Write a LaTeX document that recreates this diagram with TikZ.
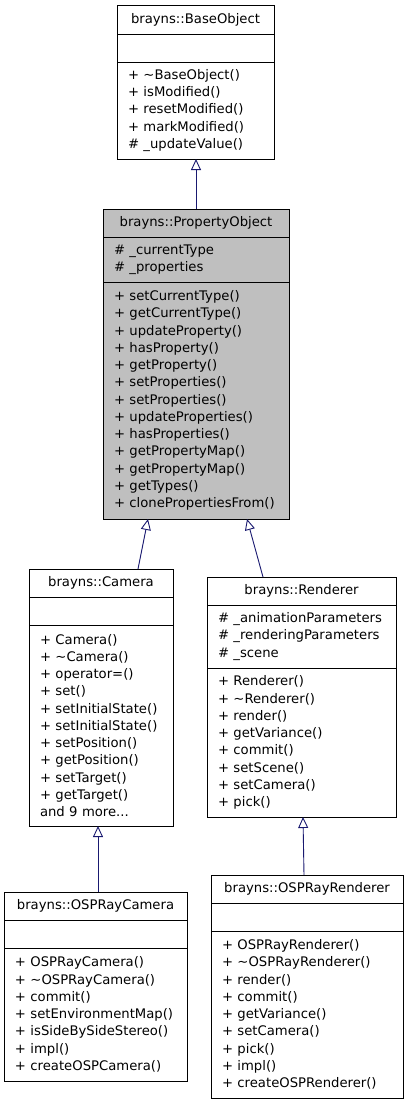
\documentclass[tikz,border=0pt]{standalone}
\usepackage{fontspec}
\usepackage{xcolor}
\usepackage{tikz}
\usetikzlibrary{positioning,arrows.meta}
\newfontfamily\classfont{DejaVu Sans}
\definecolor{edgeblue}{HTML}{191970}
\definecolor{curgray}{HTML}{BFBFBF}

\begin{document}
\begin{tikzpicture}[x=1pt, y=-1pt,
  cls/.style={draw, anchor=north west, inner sep=0pt, outer sep=0pt, line width=0.9pt,
              font=\classfont\fontsize{13.2}{17.25}\selectfont},
  head/.style={cls, align=center},
  body/.style={cls, align=left, inner xsep=11pt},
  inherit/.style={draw=edgeblue, line width=0.9pt, -{Triangle[open, length=11pt, width=10pt, fill=white]}}]
\useasboundingbox (0,0) rectangle (408,1104);
% BaseObject
\node[head, minimum width=157, minimum height=29] (baseT) at (117,5) {brayns::BaseObject};
\node[body, minimum width=157, minimum height=28] (baseA) at (baseT.south west) {};
\node[body, text width=135, minimum height=97] (baseM) at (baseA.south west)
  {+ \textasciitilde BaseObject()\\+ isModified()\\+ resetModified()\\+ markModified()\\\# \_updateValue()};
% PropertyObject
\node[head, fill=curgray, minimum width=186, minimum height=28] (propT) at (103,209) {brayns::PropertyObject};
\node[body, fill=curgray, text width=164, minimum height=45] (propA) at (propT.south west)
  {\# \_currentType\\\# \_properties};
\node[body, fill=curgray, text width=164, minimum height=237] (propM) at (propA.south west)
  {+ setCurrentType()\\+ getCurrentType()\\+ updateProperty()\\+ hasProperty()\\+ getProperty()\\+ setProperties()\\+ setProperties()\\+ updateProperties()\\+ hasProperties()\\+ getPropertyMap()\\+ getPropertyMap()\\+ getTypes()\\+ clonePropertiesFrom()};
% Camera
\node[head, minimum width=144, minimum height=28] (camT) at (29,569) {brayns::Camera};
\node[body, minimum width=144, minimum height=28] (camA) at (camT.south west) {};
\node[body, text width=122, minimum height=201] (camM) at (camA.south west)
  {+ Camera()\\+ \textasciitilde Camera()\\+ operator=()\\+ set()\\+ setInitialState()\\+ setInitialState()\\+ setPosition()\\+ getPosition()\\+ setTarget()\\+ getTarget()\\and 9 more...};
% Renderer
\node[head, minimum width=189, minimum height=28] (rendT) at (207,577) {brayns::Renderer};
\node[body, text width=167, minimum height=63] (rendA) at (rendT.south west)
  {\# \_animationParameters\\\# \_renderingParameters\\\# \_scene};
\node[body, text width=167, minimum height=149] (rendM) at (rendA.south west)
  {+ Renderer()\\+ \textasciitilde Renderer()\\+ render()\\+ getVariance()\\+ commit()\\+ setScene()\\+ setCamera()\\+ pick()};
% OSPRayCamera
\node[head, minimum width=183, minimum height=28] (ocamT) at (4,892) {brayns::OSPRayCamera};
\node[body, minimum width=183, minimum height=28] (ocamA) at (ocamT.south west) {};
\node[body, text width=161, minimum height=133] (ocamM) at (ocamA.south west)
  {+ OSPRayCamera()\\+ \textasciitilde OSPRayCamera()\\+ commit()\\+ setEnvironmentMap()\\+ isSideBySideStereo()\\+ impl()\\+ createOSPCamera()};
% OSPRayRenderer
\node[head, minimum width=192, minimum height=28] (orendT) at (211,875) {brayns::OSPRayRenderer};
\node[body, minimum width=192, minimum height=28] (orendA) at (orendT.south west) {};
\node[body, text width=170, minimum height=167] (orendM) at (orendA.south west)
  {+ OSPRayRenderer()\\+ \textasciitilde OSPRayRenderer()\\+ render()\\+ commit()\\+ getVariance()\\+ setCamera()\\+ pick()\\+ impl()\\+ createOSPRenderer()};
% inheritance
\draw[inherit] ([xshift=93pt]propT.north west) -- ([xshift=79pt]baseM.south west);
\draw[inherit] ([xshift=109pt]camT.north west) -- ([xshift=45pt]propM.south west);
\draw[inherit] ([xshift=56pt]rendT.north west) -- ([xshift=144pt]propM.south west);
\draw[inherit] ([xshift=94pt]ocamT.north west) -- ([xshift=69pt]camM.south west);
\draw[inherit] ([xshift=93pt]orendT.north west) -- ([xshift=96pt]rendM.south west);
\end{tikzpicture}
\end{document}
